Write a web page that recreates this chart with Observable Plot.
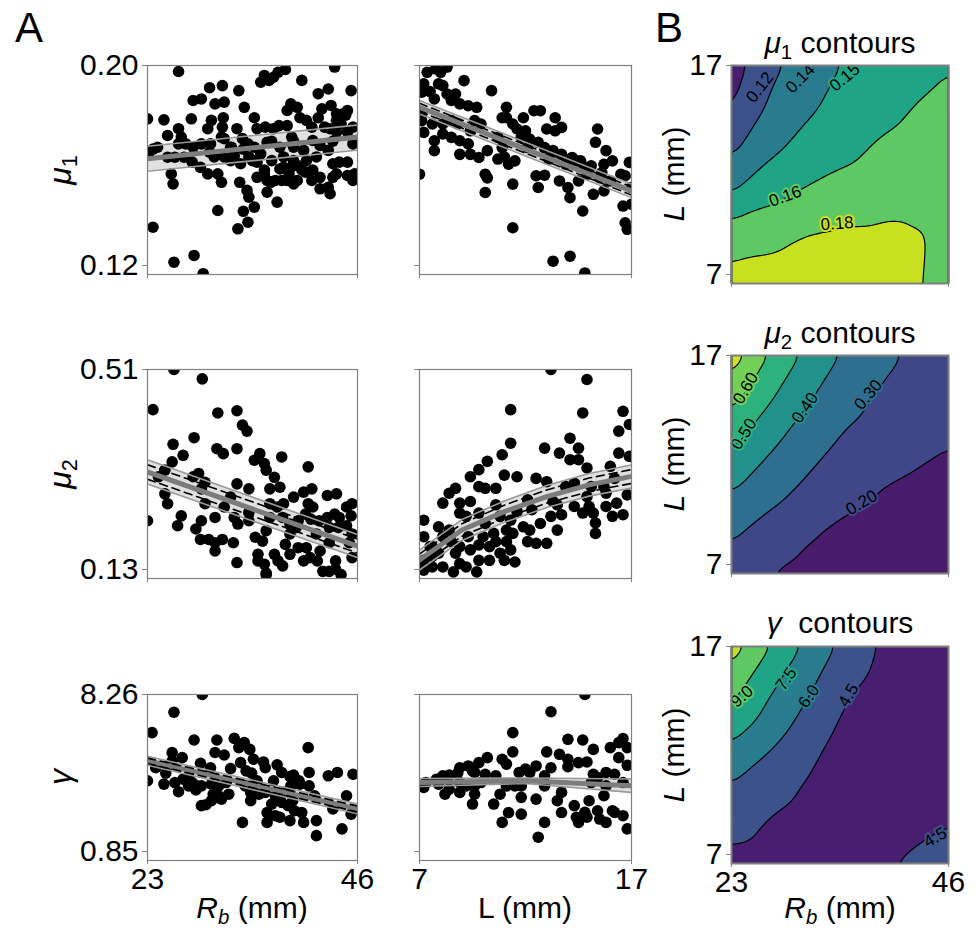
<!DOCTYPE html>
<html><head><meta charset="utf-8">
<script src="https://cdn.jsdelivr.net/npm/d3@7"></script>
<script src="https://cdn.jsdelivr.net/npm/@observablehq/plot@0.6"></script>
<style>
body{margin:0;background:#fff;font-family:"Liberation Sans",Arial,sans-serif;}
#fig{position:relative;width:977px;height:930px;overflow:hidden;background:#fff;}
.pl{position:absolute;}
.pl svg{overflow:visible;}
.lab{position:absolute;white-space:nowrap;color:#000;line-height:1;font-family:"Liberation Sans",Arial,sans-serif;}
.lab sub{font-size:0.68em;vertical-align:-0.28em;line-height:0;}
</style></head><body><div id="fig"></div><script>
// ---------------- DATA ----------------
// scatter points [x, y]
const pts_mu1_Rb = [[26.4,0.1977],[23.0,0.1796],[23.6,0.1381],[25.9,0.1247],[28.1,0.1273],[29.1,0.1203],[24.8,0.1792],[24.1,0.1687],[25.2,0.1732],[26.4,0.1758],[26.7,0.1726],[25.2,0.1649],[26.0,0.1649],[27.0,0.1649],[27.9,0.163],[25.6,0.1585],[25.8,0.1547],[28.0,0.1866],[28.9,0.1872],[29.8,0.1915],[31.2,0.1923],[30.4,0.1853],[31.4,0.186],[27.8,0.1796],[29.6,0.1758],[30.0,0.179],[28.9,0.170],[29.9,0.170],[28.8,0.161],[29.6,0.1585],[30.7,0.1585],[31.1,0.1553],[30.7,0.1445],[31.3,0.180],[31.2,0.1764],[31.1,0.1726],[32.2,0.1687],[32.8,0.1758],[33.0,0.1904],[33.6,0.184],[33.1,0.1553],[33.9,0.1522],[34.1,0.1496],[34.7,0.1458],[33.5,0.1442],[32.9,0.1375],[34.0,0.140],[34.7,0.180],[35.0,0.1758],[35.4,0.1936],[35.8,0.1962],[36.3,0.1943],[36.8,0.1955],[37.3,0.1974],[38.1,0.1985],[35.9,0.1764],[34.7,0.1687],[34.5,0.1636],[35.4,0.1662],[35.8,0.160],[36.1,0.156],[35.8,0.1585],[36.5,0.1553],[37.0,0.156],[36.1,0.1515],[37.2,0.1477],[37.7,0.156],[37.5,0.1687],[37.4,0.177],[38.3,0.1828],[38.3,0.177],[38.8,0.1726],[39.4,0.184],[39.9,0.1943],[39.7,0.180],[39.0,0.1687],[39.0,0.1636],[39.0,0.1547],[39.4,0.1617],[39.9,0.160],[40.4,0.179],[41.0,0.1764],[41.1,0.1713],[40.1,0.1675],[40.4,0.1636],[40.3,0.1592],[41.1,0.160],[41.0,0.156],[41.7,0.1892],[42.1,0.1834],[42.8,0.191],[41.7,0.180],[42.4,0.1764],[41.9,0.1694],[42.8,0.1675],[43.0,0.1758],[41.9,0.1528],[42.8,0.1534],[43.0,0.1509],[43.5,0.1994],[43.1,0.1847],[43.7,0.1815],[43.7,0.179],[44.4,0.1815],[44.2,0.1777],[44.9,0.1828],[45.3,0.1904],[43.7,0.1745],[44.9,0.1745],[45.5,0.1764],[45.5,0.170],[43.3,0.1624],[44.0,0.163],[44.9,0.163],[43.7,0.1585],[45.5,0.156],[45.7,0.1585],[44.7,0.181],[43.3,0.171],[38.7,0.1853],[37.9,0.165],[37.9,0.161],[38.7,0.161],[38.5,0.1585],[39.0,0.171],[41.5,0.165],[32.5,0.1655],[32.1,0.1687],[31.4,0.172],[33.4,0.172],[34.0,0.170],[33.5,0.168],[36.8,0.1758],[36.6,0.171],[36.1,0.1706],[28.0,0.1687],[27.2,0.170],[26.4,0.170],[23.6,0.168],[23.1,0.1662],[29.8,0.1668],[30.3,0.165],[31.4,0.165],[32.1,0.1636],[33.2,0.1624],[34.1,0.165],[35.0,0.163],[35.0,0.1572],[36.6,0.1636],[37.5,0.1604],[38.3,0.156],[39.4,0.156],[41.9,0.1572],[43.3,0.1572],[44.9,0.1579]];
const pts_mu1_L = [[7.36,0.1974],[7.76,0.1987],[8.0,0.1974],[8.3,0.1994],[7.2,0.193],[7.1,0.1898],[7.5,0.190],[7.9,0.193],[8.1,0.1923],[7.7,0.1872],[8.3,0.1891],[8.7,0.1891],[9.1,0.1942],[8.5,0.1866],[8.9,0.1853],[9.3,0.1846],[9.7,0.184],[7.1,0.1814],[7.1,0.1789],[7.6,0.1776],[7.2,0.1744],[7.7,0.1712],[7.7,0.1674],[8.1,0.1738],[8.1,0.1776],[8.5,0.1789],[8.5,0.1725],[8.9,0.1712],[8.9,0.166],[9.3,0.170],[9.4,0.175],[9.6,0.1789],[9.9,0.1776],[9.8,0.1648],[10.2,0.1674],[10.4,0.1904],[10.1,0.1584],[10.2,0.157],[10.1,0.1514],[10.7,0.1725],[10.9,0.180],[11.1,0.184],[11.1,0.180],[10.7,0.1642],[11.0,0.165],[11.2,0.1622],[11.5,0.1635],[11.4,0.1546],[11.6,0.1757],[11.9,0.180],[12.0,0.175],[11.4,0.1776],[12.2,0.1718],[12.4,0.1827],[12.7,0.1827],[12.5,0.1578],[12.6,0.1533],[12.9,0.158],[12.6,0.1706],[12.9,0.1686],[13.0,0.1757],[13.4,0.180],[13.4,0.175],[13.7,0.1763],[13.1,0.1642],[13.7,0.166],[13.6,0.1558],[14.0,0.1533],[14.1,0.1494],[14.2,0.1648],[14.4,0.1635],[14.6,0.1635],[14.8,0.161],[15.1,0.1616],[14.5,0.1558],[15.2,0.1507],[14.7,0.1443],[15.4,0.1757],[15.3,0.1706],[15.8,0.1674],[16.1,0.1635],[15.7,0.1622],[15.6,0.159],[16.0,0.1558],[15.7,0.152],[16.5,0.1584],[16.7,0.1578],[16.9,0.1629],[17.0,0.1533],[17.0,0.1469],[16.6,0.1462],[16.7,0.1398],[16.8,0.1373],[11.4,0.1379],[13.3,0.1251],[14.1,0.127],[14.8,0.1206],[7.0,0.1584],[12.1,0.1686],[10.9,0.1686],[9.4,0.166],[8.8,0.1776],[11.8,0.1725],[13.9,0.1622],[13.3,0.1674],[14.9,0.1584],[15.5,0.1571]];
const pts_mu2_Rb = [[25.9,0.51],[29.0,0.493],[23.6,0.437],[30.7,0.431],[32.8,0.435],[33.4,0.409],[33.9,0.398],[28.1,0.386],[25.8,0.374],[30.6,0.366],[31.3,0.357],[32.8,0.366],[26.9,0.354],[25.7,0.342],[24.9,0.327],[24.2,0.315],[23.0,0.235],[28.0,0.315],[28.6,0.321],[29.3,0.305],[28.9,0.293],[24.9,0.284],[25.2,0.266],[26.7,0.244],[26.3,0.226],[28.3,0.22],[28.9,0.235],[28.8,0.201],[29.7,0.201],[30.4,0.195],[30.4,0.18],[31.2,0.201],[32.4,0.195],[32.8,0.159],[29.3,0.266],[30.4,0.241],[31.4,0.26],[32.1,0.278],[32.8,0.302],[34.1,0.293],[34.1,0.235],[34.8,0.205],[35.3,0.357],[34.7,0.345],[35.8,0.339],[36.0,0.327],[36.4,0.293],[37.7,0.351],[36.9,0.314],[37.5,0.296],[36.4,0.266],[37.2,0.26],[37.9,0.266],[37.8,0.241],[36.0,0.217],[35.6,0.198],[35.1,0.174],[35.1,0.162],[35.8,0.156],[36.0,0.14],[36.9,0.174],[37.3,0.162],[38.1,0.192],[38.6,0.211],[39.5,0.235],[39.3,0.223],[39.0,0.278],[40.1,0.287],[41.0,0.293],[40.6,0.333],[40.6,0.266],[40.3,0.247],[41.1,0.26],[40.9,0.238],[41.8,0.235],[41.5,0.211],[38.6,0.174],[39.5,0.186],[40.4,0.186],[40.1,0.162],[40.8,0.168],[41.9,0.18],[41.6,0.162],[42.9,0.195],[42.7,0.281],[43.7,0.284],[43.5,0.247],[42.9,0.223],[43.9,0.223],[44.8,0.26],[45.4,0.266],[45.3,0.244],[44.8,0.226],[45.4,0.211],[45.1,0.195],[45.4,0.168],[43.6,0.162],[42.9,0.143],[43.6,0.147],[44.2,0.137],[36.0,0.137],[37.8,0.153],[42.2,0.143],[32.9,0.229],[34.1,0.25],[38.6,0.229],[42.7,0.241],[32.5,0.241],[36.4,0.241],[44.0,0.241]];
const pts_mu2_L = [[13.2,0.51],[14.9,0.4918],[11.3,0.437],[14.7,0.431],[16.6,0.434],[16.9,0.41],[16.4,0.398],[11.3,0.376],[14.1,0.385],[12.9,0.367],[13.6,0.358],[14.5,0.367],[16.4,0.358],[16.9,0.352],[10.9,0.355],[10.2,0.343],[9.8,0.328],[14.1,0.346],[14.5,0.346],[14.9,0.331],[16.0,0.334],[11.0,0.318],[11.6,0.315],[12.5,0.312],[13.0,0.306],[13.9,0.297],[14.3,0.303],[15.1,0.297],[15.7,0.297],[16.2,0.312],[16.8,0.282],[16.6,0.246],[9.8,0.297],[10.1,0.294],[10.6,0.294],[9.4,0.315],[8.7,0.294],[8.4,0.285],[8.1,0.267],[8.9,0.267],[9.4,0.27],[8.9,0.249],[9.8,0.249],[10.6,0.264],[10.8,0.243],[11.6,0.252],[12.1,0.273],[11.3,0.236],[11.9,0.224],[12.3,0.255],[12.7,0.23],[13.2,0.243],[13.5,0.218],[13.0,0.194],[12.5,0.194],[13.7,0.246],[14.3,0.261],[14.7,0.249],[15.0,0.261],[15.2,0.249],[15.3,0.212],[15.8,0.261],[16.3,0.267],[16.1,0.243],[14.9,0.279],[7.2,0.236],[7.2,0.206],[7.5,0.188],[7.2,0.163],[7.2,0.145],[7.6,0.151],[7.6,0.17],[7.9,0.224],[8.1,0.206],[8.4,0.218],[8.5,0.197],[8.7,0.176],[8.9,0.157],[8.1,0.151],[8.6,0.142],[9.3,0.206],[9.4,0.182],[9.8,0.163],[9.8,0.191],[10.3,0.163],[10.8,0.176],[11.1,0.197],[11.1,0.218],[11.4,0.212],[11.3,0.182],[11.5,0.16],[12.1,0.197],[10.5,0.212],[10.0,0.206],[9.2,0.243],[10.1,0.23],[13.5,0.264],[15.8,0.285],[15.3,0.231],[7.6,0.188],[7.9,0.176],[8.9,0.188],[10.6,0.197],[11.0,0.163],[9.2,0.151],[9.7,0.142],[10.3,0.188],[12.2,0.218],[13.3,0.27]];
const pts_gam_Rb = [[29.0,8.26],[25.9,7.47],[23.5,6.56],[28.1,6.23],[30.6,6.23],[32.5,6.3],[33.6,6.11],[33.0,5.89],[34.2,5.81],[30.4,5.67],[31.4,5.56],[40.6,5.89],[25.7,5.67],[26.8,5.44],[25.7,5.3],[33.2,5.22],[34.6,5.37],[35.7,5.25],[37.2,5.12],[28.8,5.19],[29.9,4.99],[32.1,4.95],[33.8,4.85],[34.4,4.75],[23.0,4.41],[25.0,4.75],[24.8,4.26],[26.0,4.33],[26.4,3.92],[26.9,4.48],[27.9,4.33],[27.5,4.63],[28.9,4.18],[30.0,4.26],[30.2,3.81],[30.8,4.18],[31.1,3.59],[29.4,3.34],[33.4,2.55],[33.7,4.18],[34.3,3.52],[35.2,3.81],[34.3,3.89],[38.6,4.6],[39.0,4.66],[39.6,4.41],[40.7,4.78],[39.7,4.26],[40.7,4.18],[38.7,4.18],[38.0,3.89],[36.1,2.99],[36.6,3.37],[37.0,2.85],[37.5,2.78],[38.4,3.3],[38.6,2.63],[39.1,3.07],[39.9,2.99],[40.1,2.55],[41.5,2.63],[41.5,1.96],[41.3,3.74],[37.7,3.44],[37.0,3.74],[38.9,3.52],[42.8,4.63],[43.8,4.78],[43.3,3.15],[44.8,3.74],[45.5,4.7],[45.3,2.92],[44.3,2.26],[28.9,3.3],[30.8,3.74],[31.9,3.81],[30.0,3.52],[28.3,4.0],[27.5,4.18],[23.9,4.99],[25.2,5.07],[28.4,4.18],[35.9,3.89],[37.4,3.59],[36.1,2.55],[34.6,4.04],[31.6,4.33],[35.0,4.41],[35.9,4.99],[37.7,4.78],[36.8,4.41]];
const pts_gam_L = [[14.8,8.26],[13.2,7.49],[11.4,6.56],[11.4,5.7],[13.0,5.7],[13.6,5.59],[14.0,6.26],[14.7,6.23],[15.2,5.81],[16.0,5.89],[16.4,6.11],[16.6,6.29],[16.8,5.89],[16.4,5.44],[16.8,5.1],[14.9,5.25],[14.5,5.22],[14.0,5.04],[12.5,5.07],[10.2,5.44],[10.9,5.37],[11.1,5.15],[9.8,5.22],[9.3,5.07],[8.9,4.99],[9.5,4.85],[8.8,4.75],[8.4,4.66],[8.1,4.63],[7.8,4.48],[7.3,4.33],[7.2,4.11],[7.9,4.26],[8.2,3.81],[8.4,4.04],[8.9,3.89],[9.5,3.37],[9.6,3.81],[9.9,4.33],[10.6,4.63],[10.5,3.37],[10.8,3.81],[11.2,2.99],[10.9,2.55],[11.1,4.18],[11.5,4.18],[11.8,3.67],[11.8,2.92],[11.7,4.78],[12.0,4.93],[12.5,3.59],[12.9,4.18],[13.5,3.52],[12.9,2.55],[12.6,1.89],[13.7,3.89],[13.7,2.99],[14.3,3.3],[14.4,2.78],[14.5,2.55],[14.9,2.78],[15.0,3.52],[15.2,4.7],[15.4,4.55],[15.8,4.78],[16.2,4.7],[15.8,4.18],[15.7,3.74],[15.4,3.07],[15.5,2.7],[15.8,2.55],[16.1,3.07],[16.6,2.85],[16.8,2.26],[16.6,4.33],[15.1,4.33],[14.0,5.37],[13.2,4.99],[12.9,4.63],[9.6,4.78],[10.1,4.7],[9.2,4.18],[12.2,4.78],[9.6,4.18],[11.8,4.18],[8.9,4.33],[16.2,3.0],[14.8,3.0]];

// fitted curves with confidence band: [x, lower, fit, upper]
const fit_mu1_Rb = [[23,0.1595,0.1643,0.1691],[46,0.1676,0.1726,0.1772]];
const fit_mu1_L  = [[7,0.1814,0.1840,0.1866],[12,0.1654,0.1680,0.1706],[17,0.1494,0.1520,0.1546]];
const fit_mu2_Rb = [[23,0.3017,0.3237,0.3457],[46,0.1680,0.1890,0.2100]];
const fit_mu2_L  = [[7,0.1455,0.1635,0.1815],[9,0.1992,0.2182,0.2372],[11,0.2321,0.2516,0.2711],[13,0.2590,0.2790,0.2990],[15,0.2798,0.3003,0.3208],[17,0.2945,0.3155,0.3365]];
const fit_gam_Rb = [[23,5.10,5.30,5.50],[46,2.93,3.15,3.37]];
const fit_gam_L  = [[7,4.15,4.33,4.51],[12,4.29,4.41,4.53],[17,3.89,4.19,4.49]];

// tick values
const ticksRb = [23, 46];
const ticksL = [7, 17];
const ticksMu1 = [0.12, 0.20];
const ticksMu2 = [0.13, 0.51];
const ticksGam = [0.85, 8.26];

// contour surfaces sampled on a grid (rows: L = 7..17, cols: Rb = 23..46)
const gridRb = [23, 27, 31, 35, 39, 43, 46];
const gridL = [7, 9, 11, 13, 15, 17];
const gridMu1 = [
  [0.1835,0.186,0.188,0.189,0.187,0.1805,0.175],
  [0.176,0.177,0.1815,0.1835,0.1835,0.181,0.176],
  [0.151,0.1615,0.168,0.172,0.175,0.176,0.176],
  [0.133,0.1478,0.1554,0.1617,0.168,0.172,0.174],
  [0.119,0.1376,0.148,0.1547,0.1605,0.1663,0.170],
  [0.113,0.131,0.1417,0.151,0.1555,0.160,0.164]];
const gridMu2 = [
  [0.255,0.200,0.170,0.150,0.135,0.125,0.120],
  [0.320,0.265,0.215,0.180,0.160,0.145,0.135],
  [0.415,0.345,0.285,0.240,0.202,0.180,0.165],
  [0.520,0.420,0.345,0.285,0.250,0.225,0.205],
  [0.630,0.510,0.410,0.335,0.285,0.255,0.235],
  [0.760,0.594,0.478,0.388,0.320,0.280,0.260]];
const gridGam = [
  [4.05,3.9,3.65,3.7,4.25,5.0,5.5],
  [5.1,4.45,3.95,3.65,3.6,3.95,4.35],
  [6.2,5.3,4.5,3.85,3.55,3.6,3.8],
  [7.9,6.55,5.35,4.1,3.6,3.5,3.6],
  [9.5,7.7,6.2,4.75,3.9,3.6,3.5],
  [11.3,9.05,7.2,5.6,4.3,3.8,3.6]];
// contour levels
const levelsMu1 = [0.105,0.12,0.135,0.15,0.165,0.18,0.195];
const levelsMu2 = [0.1,0.2,0.3,0.4,0.5,0.6,0.7,0.8];
const levelsGam = [3.0,4.5,6.0,7.5,9.0,10.5,12.0];
// inline contour labels: [Rb, L, text, angle, level]
const labelsMu1 = [[26.0,16.0,"0.12",-52,0.12],[30.3,16.4,"0.14",-45,0.135],[35.0,16.45,"0.15",-40,0.15],[28.7,11.0,"0.16",-20,0.165],[34.2,9.75,"0.18",-4,0.18]];
const labelsMu2 = [[24.5,15.5,"0.60",-60,0.6],[24.3,13.4,"0.50",-58,0.5],[30.8,14.6,"0.40",-55,0.4],[37.5,15.2,"0.30",-50,0.3],[36.8,10.25,"0.20",-30,0.2]];
const labelsGam = [[24.1,14.7,"9.0",-42,9.0],[28.8,15.5,"7.5",-55,7.5],[31.2,14.7,"6.0",-55,6.0],[35.4,14.75,"4.5",-60,4.5],[44.6,8.2,"4.5",-30,4.5]];

// ---------------- DRAWING ----------------
const fig = document.getElementById("fig");
const FONT = '"Liberation Sans", Arial, sans-serif';
const M = {l: 100, r: 20, t: 20, b: 50};
const f2 = d3.format(".2f");

function place(node, left, top) {
  const d = document.createElement("div");
  d.className = "pl";
  d.style.left = left + "px";
  d.style.top = top + "px";
  d.appendChild(node);
  fig.appendChild(d);
}
function axes(xt, yt, showX, showY, fmtY) {
  const common = {tickSize: 5, stroke: "#808080", fontSize: 30, label: null};
  return [
    Plot.axisX({...common, ticks: xt, tickSize: 4, tickPadding: 3, tickFormat: showX ? (d => String(d)) : (() => "")}),
    Plot.axisY({...common, ticks: [yt[1]], tickPadding: 4, tickFormat: showY ? fmtY : (() => "")}),
    Plot.axisY({...common, ticks: [yt[0]], tickPadding: 4, dy: -9, tickFormat: showY ? fmtY : (() => "")})
  ];
}
function frameSize(x0, x1, y0, y1) {
  return {width: (x1 - x0) + M.l + M.r, height: (y1 - y0) + M.t + M.b};
}
function scatter(pts, fit, xdom, ydom, box, showX, showY, dashed) {
  const [x0, x1, y0, y1] = box;
  const rows = pts.map(([x, y]) => ({x, y}));
  const fr = fit.map(([x, lo, mid, hi]) => ({x, lo, mid, hi}));
  const marks = [
    Plot.areaY(fr, {x: "x", y1: "lo", y2: "hi", fill: "#e0e0e0", clip: true}),
    Plot.dot(rows, {x: "x", y: "y", r: 5.8, fill: "black", clip: true}),
    Plot.line(fr, {x: "x", y: "lo", stroke: "#9a9a9a", strokeWidth: 1.6, clip: true}),
    Plot.line(fr, {x: "x", y: "hi", stroke: "#9a9a9a", strokeWidth: 1.6, clip: true}),
    Plot.line(fr, {x: "x", y: "mid", stroke: "#7c7c7c", strokeWidth: 5, clip: true})
  ];
  if (dashed) {
    marks.push(Plot.line(fr, {x: "x", y: d => d.mid + 0.6 * (d.hi - d.mid), stroke: "black", strokeWidth: 1.6, strokeDasharray: "8,5", clip: true}));
    marks.push(Plot.line(fr, {x: "x", y: d => d.mid - 0.6 * (d.mid - d.lo), stroke: "black", strokeWidth: 1.6, strokeDasharray: "8,5", clip: true}));
  }
  marks.push(Plot.frame({stroke: "#808080", strokeWidth: 1.2}));
  marks.push(...axes(xdom, ydom, showX, showY, f2));
  const p = Plot.plot({
    ...frameSize(x0, x1, y0, y1),
    marginLeft: M.l, marginRight: M.r, marginTop: M.t, marginBottom: M.b,
    style: {background: "transparent", overflow: "visible", fontFamily: FONT, fontSize: "30px", color: "black"},
    x: {domain: xdom}, y: {domain: ydom},
    marks
  });
  place(p, x0 - M.l, y0 - M.t);
}
function contour(grid, levels, labels, box, showX) {
  const [x0, x1, y0, y1] = box;
  const rows = [];
  gridL.forEach((L, i) => gridRb.forEach((Rb, j) => rows.push({Rb, L, v: grid[i][j]})));
  const h = levels[1] - levels[0];
  const lab = labels.map(([Rb, L, text, angle, level]) => ({Rb, L, text, angle, level}));
  const thr = levels.slice(0, -1);
  const opts = {x: "Rb", y: "L", interpolate: "barycentric", blur: 3};
  const p = Plot.plot({
    ...frameSize(x0, x1, y0, y1),
    marginLeft: M.l, marginRight: M.r, marginTop: M.t, marginBottom: M.b,
    style: {background: "transparent", overflow: "visible", fontFamily: FONT, fontSize: "30px", color: "black"},
    x: {domain: [23, 46]}, y: {domain: [7, 17]},
    color: {type: "linear", scheme: "viridis", domain: [levels[0] - h / 2, levels[levels.length - 1] - h / 2]},
    marks: [
      Plot.contour(rows, {...opts, fill: "v", thresholds: thr, stroke: "none"}),
      Plot.contour(rows, {...opts, value: "v", thresholds: thr.slice(1), stroke: "black", strokeWidth: 1.2, fill: "none"}),
      Plot.text(lab, {x: "Rb", y: "L", text: "text", rotate: "angle", fontSize: 17, fill: "black", stroke: "level", strokeWidth: 4, paintOrder: "stroke", clip: true}),
      Plot.frame({stroke: "#808080", strokeWidth: 2}),
      ...axes(ticksRb, ticksL, showX, true, d => String(d))
    ]
  });
  place(p, x0 - M.l, y0 - M.t);
}

const C1 = [147, 357], C2 = [419, 631], C3 = [731, 948];
const R1 = [65, 274], R2 = [369, 578], R3 = [694, 860];
const K1 = [65, 283], K2 = [355, 573], K3 = [646, 863];

scatter(pts_mu1_Rb, fit_mu1_Rb, ticksRb, ticksMu1, [...C1, ...R1], false, true, false);
scatter(pts_mu1_L,  fit_mu1_L,  ticksL,  ticksMu1, [...C2, ...R1], false, false, true);
scatter(pts_mu2_Rb, fit_mu2_Rb, ticksRb, ticksMu2, [...C1, ...R2], false, true, true);
scatter(pts_mu2_L,  fit_mu2_L,  ticksL,  ticksMu2, [...C2, ...R2], false, false, true);
scatter(pts_gam_Rb, fit_gam_Rb, ticksRb, ticksGam, [...C1, ...R3], true, true, true);
scatter(pts_gam_L,  fit_gam_L,  ticksL,  ticksGam, [...C2, ...R3], true, false, false);
contour(gridMu1, levelsMu1, labelsMu1, [...C3, ...K1], false);
contour(gridMu2, levelsMu2, labelsMu2, [...C3, ...K2], false);
contour(gridGam, levelsGam, labelsGam, [...C3, ...K3], true);

// ---------------- TEXT ----------------
function label(html, x, baseline, size, align = "center") {
  const d = document.createElement("div");
  d.className = "lab";
  d.innerHTML = html;
  d.style.fontSize = size + "px";
  d.style.left = x + "px";
  d.style.top = (baseline - 0.846 * size) + "px";
  if (align === "center") d.style.transform = "translateX(-50%)";
  fig.appendChild(d);
}
function vlabel(html, cx, cy, size) {
  const d = document.createElement("div");
  d.className = "lab";
  d.innerHTML = html;
  d.style.fontSize = size + "px";
  d.style.left = cx + "px";
  d.style.top = cy + "px";
  d.style.transform = "translate(-50%,-50%) rotate(-90deg)";
  fig.appendChild(d);
}
label("A", 15, 43, 42, "left");
label("B", 655, 43, 42, "left");
label('<i>μ</i><sub>1</sub> contours', 840, 53, 30);
label('<i>μ</i><sub>2</sub> contours', 840, 343, 30);
label('<i>γ</i>&nbsp; contours', 840, 633, 30);
label('<i>R</i><sub><i>b</i></sub> (mm)', 252, 918, 30);
label('L (mm)', 525, 918, 30);
label('<i>R</i><sub><i>b</i></sub> (mm)', 840, 918, 30);
vlabel('<i>μ</i><sub>1</sub>', 60, 170, 32);
vlabel('<i>μ</i><sub>2</sub>', 60, 474, 32);
vlabel('<i>γ</i>', 60, 777, 32);
vlabel('<i>L</i> (mm)', 674, 174, 30);
vlabel('<i>L</i> (mm)', 674, 464, 30);
vlabel('<i>L</i> (mm)', 674, 755, 30);
</script></body></html>
